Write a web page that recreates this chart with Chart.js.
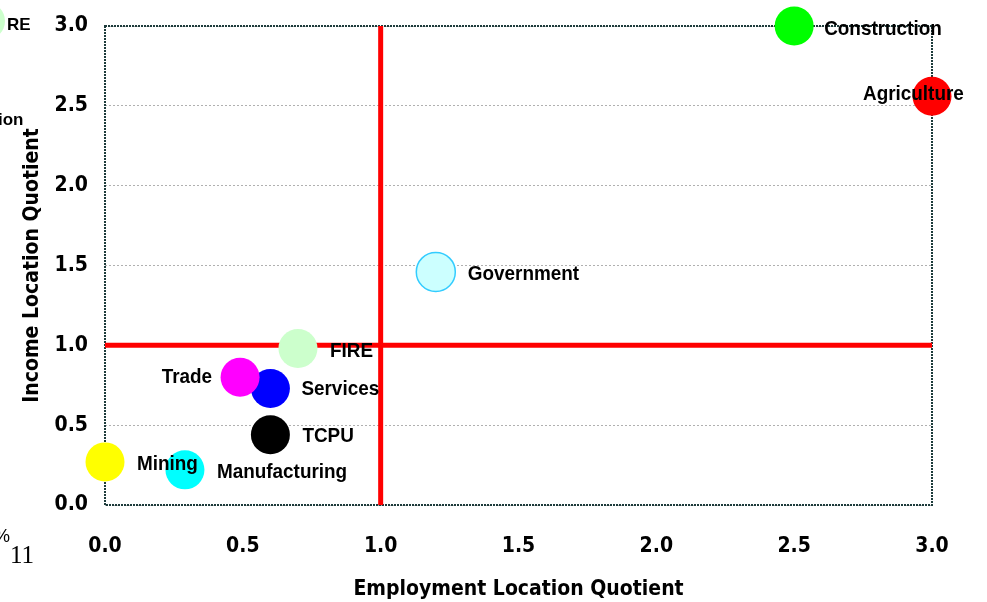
<!DOCTYPE html>
<html lang="en">
<head>
<meta charset="UTF-8">
<title>Location Quotients</title>
<script src="https://cdn.jsdelivr.net/npm/chart.js"></script>
<style>
  html, body { margin: 0; padding: 0; background: #fff; }
  #wrap { width: 987px; height: 602px; position: relative; }
</style>
</head>
<body>
<div id="wrap"><canvas id="lqChart"></canvas></div>
<script>
// data
const sectors = ["Construction", "Agriculture", "Government", "FIRE", "Trade", "Services", "TCPU", "Mining", "Manufacturing"];
const employmentLQ = [2.5, 3.0, 1.2, 0.7, 0.49, 0.6, 0.6, 0.0, 0.29];
const incomeLQ = [3.0, 2.56, 1.46, 0.98, 0.8, 0.73, 0.44, 0.27, 0.22];
const axisTicks = [0, 0.5, 1, 1.5, 2, 2.5, 3];
const refLine = 1.0;

// styling
const fills = ["#00ff00", "#ff0000", "#ccffff", "#ccffcc", "#ff00ff", "#0000ff", "#000000", "#ffff00", "#00ffff"];
const borders = ["#00ff00", "#ff0000", "#33ccff", "#ccffcc", "#ff00ff", "#0000ff", "#000000", "#ffff00", "#00ffff"];
// label offsets from bubble centre [dx, dy, align]
const labelPos = [[30, 3, "left"], [-69, -2, "left"], [32, 2, "left"], [32, 3, "left"], [-28, 0, "right"],
                  [31, 1, "left"], [32, 1, "left"], [32, 2, "left"], [32, 2, "left"]];
const NARROW = 0.9; // squeeze to mimic a narrow face

const bubbleSets = sectors.map((s, i) => ({
  type: "bubble",
  label: s,
  data: [{ x: employmentLQ[i], y: incomeLQ[i], r: 19.5 }],
  backgroundColor: fills[i],
  borderColor: borders[i],
  borderWidth: i === 2 ? 1.5 : 0,
  borderDash: [3, 2],
  clip: false,
  order: 1
}));

const lo = axisTicks[0], hi = axisTicks[axisTicks.length - 1];
const refSets = [
  { type: "line", label: "ref-x", data: [{ x: refLine, y: lo }, { x: refLine, y: hi }] },
  { type: "line", label: "ref-y", data: [{ x: lo, y: refLine }, { x: hi, y: refLine }] }
].map(d => Object.assign(d, { borderColor: "#ff0000", borderWidth: 5, pointRadius: 0, fill: false, order: 2 }));

const framePlugin = {
  id: "frame",
  beforeDatasetsDraw(chart) {
    const { ctx, chartArea: a } = chart;
    ctx.save();
    ctx.strokeStyle = "#1d3b3b";
    ctx.lineWidth = 2;
    ctx.setLineDash([2, 1]);
    ctx.strokeRect(a.left, a.top, a.right - a.left, a.bottom - a.top);
    ctx.restore();
  },
  afterDatasetsDraw(chart) {
    const { ctx } = chart;
    const xs = chart.scales.x, ys = chart.scales.y;
    ctx.save();
    ctx.fillStyle = "#000";
    ctx.font = "bold 21px 'Liberation Sans', Arial, sans-serif";
    ctx.textBaseline = "middle";
    sectors.forEach((s, i) => {
      const px = xs.getPixelForValue(employmentLQ[i]);
      const py = ys.getPixelForValue(incomeLQ[i]);
      const p = labelPos[i];
      ctx.save();
      ctx.translate(px + p[0], py + p[1]);
      ctx.scale(NARROW, 1);
      ctx.textAlign = p[2];
      ctx.fillText(s, 0, 0);
      ctx.restore();
    });
    ctx.restore();
  },
  afterDraw(chart) {
    // clipped pieces of a neighbouring slide at the left edge
    const { ctx } = chart;
    ctx.save();
    ctx.fillStyle = "#ccffcc";
    ctx.beginPath();
    ctx.arc(-14, 21, 19, 0, Math.PI * 2);
    ctx.fill();
    ctx.fillStyle = "#000";
    ctx.textBaseline = "middle";
    ctx.textAlign = "left";
    ctx.font = "bold 17px 'Liberation Sans', sans-serif";
    ctx.fillText("RE", 7, 25);
    ctx.fillText("ion", -2, 120);
    ctx.font = "18px 'Liberation Sans', sans-serif";
    ctx.fillText("%", -6, 537);
    ctx.font = "25px 'Liberation Serif', serif";
    ctx.fillText("11", 10, 556);
    ctx.restore();
  }
};

const FONT = '"DejaVu Sans Condensed", "Liberation Sans", sans-serif';
const tickFont = { family: FONT, size: 21, weight: "bold" };
const titleFont = { family: FONT, size: 21, weight: "bold" };

new Chart(document.getElementById("lqChart"), {
  type: "bubble",
  data: { datasets: refSets.concat(bubbleSets) },
  options: {
    responsive: true,
    maintainAspectRatio: false,
    animation: false,
    layout: { padding: { top: 26, right: 55, left: 0, bottom: 0 } },
    plugins: { legend: { display: false }, tooltip: { enabled: false } },
    scales: {
      x: {
        type: "linear",
        min: lo, max: hi,
        afterFit(s) { s.height = 97; },
        afterBuildTicks(s) { s.ticks = axisTicks.map(v => ({ value: v })); },
        ticks: { color: "#000", font: tickFont, padding: 29, maxRotation: 0, callback: v => v.toFixed(1) },
        grid: { display: false, drawTicks: false },
        border: { display: false },
        title: { display: true, text: "Employment Location Quotient", color: "#000", font: titleFont, padding: { top: 0, bottom: 0 } }
      },
      y: {
        type: "linear",
        min: lo, max: hi,
        afterFit(s) { s.width = 105; s.paddingTop = 0; s.paddingBottom = 0; },
        afterBuildTicks(s) { s.ticks = axisTicks.map(v => ({ value: v })); },
        ticks: { color: "#000", font: tickFont, padding: 17, callback: v => v.toFixed(1) },
        grid: { color: "#b0b0b0", lineWidth: 1, drawTicks: false },
        border: { display: false, dash: [2, 2] },
        title: { display: true, text: "Income Location Quotient", color: "#000", font: titleFont, padding: { top: 20, bottom: 0 } }
      }
    }
  },
  plugins: [framePlugin]
});
</script>
</body>
</html>
